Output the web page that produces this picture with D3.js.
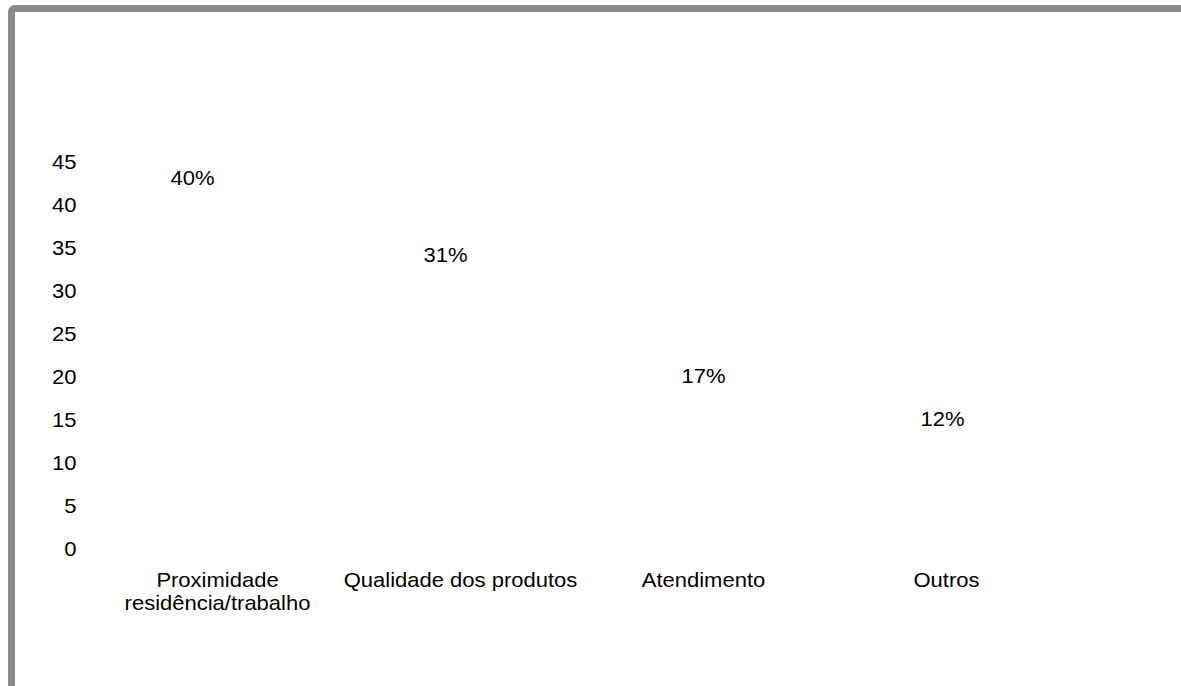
<!DOCTYPE html>
<html>
<head>
<meta charset="utf-8">
<script src="https://cdn.jsdelivr.net/npm/d3@7"></script>
<style>
  html, body { margin: 0; padding: 0; background: #ffffff; }
  svg { display: block; }
  text { font-family: "Liberation Sans", Arial, sans-serif; fill: #000000; }
</style>
</head>
<body>
<svg id="chart" width="1181" height="686"></svg>
<script>
// Motivos de escolha da loja (percentual de respostas)
const categories = [["Proximidade", "residência/trabalho"], ["Qualidade dos produtos"], ["Atendimento"], ["Outros"]];
const values = [40, 31, 17, 12];
const valueLabels = ["40%", "31%", "17%", "12%"];
const yTicks = [0, 5, 10, 15, 20, 25, 30, 35, 40, 45];

const W = 1181, H = 686;
const FONT = 20, STRETCH = 1.1;
// horizontal nudges applied to the data labels (manually placed labels)
const labelNudge = [-25, -15, 0, -4];

const svg = d3.select("#chart");

// outer frame
svg.append("rect")
  .attr("x", 11.5).attr("y", 8.5)
  .attr("width", W + 40).attr("height", H + 40)
  .attr("rx", 3)
  .attr("fill", "#ffffff")
  .attr("stroke", "#8a8a8a")
  .attr("stroke-width", 7);

const keys = categories.map(c => c.join(" "));
const x = d3.scaleBand().domain(keys).range([96, 1068]).paddingInner(0.4).paddingOuter(0.2);
const y = d3.scaleLinear().domain([0, 45]).range([548, 161]);

// bars (white fill)
svg.append("g").selectAll("rect")
  .data(values)
  .join("rect")
  .attr("x", (d, i) => x(keys[i]))
  .attr("y", d => y(d))
  .attr("width", x.bandwidth())
  .attr("height", d => y(0) - y(d))
  .attr("fill", "#ffffff");

// y axis labels
const yAxis = svg.append("g")
  .attr("transform", "translate(76.5,0)")
  .call(d3.axisLeft(y).tickValues(yTicks).tickSize(0).tickPadding(0).tickFormat(d3.format("d")));
yAxis.select(".domain").remove();
yAxis.selectAll("text")
  .attr("x", 0).attr("dy", "0.35em")
  .attr("transform", `scale(${STRETCH},1)`)
  .style("font-size", FONT + "px")
  .style("font-family", "'Liberation Sans', Arial, sans-serif")
  .attr("fill", "#000");

// category labels
const catG = svg.append("g").selectAll("text")
  .data(categories)
  .join("text")
  .attr("text-anchor", "middle")
  .style("font-size", FONT + "px")
  .attr("transform", (d, i) => `translate(${x(keys[i]) + x.bandwidth() / 2},587) scale(${STRETCH},1)`);
catG.selectAll("tspan")
  .data(d => d)
  .join("tspan")
  .attr("x", 0)
  .attr("dy", (d, j) => j === 0 ? 0 : 23)
  .text(d => d);

// data labels
svg.append("g").selectAll("text")
  .data(values)
  .join("text")
  .attr("text-anchor", "middle")
  .attr("dy", "0.35em")
  .style("font-size", FONT + "px")
  .attr("transform", (d, i) => `translate(${x(keys[i]) + x.bandwidth() / 2 + labelNudge[i]},${y(d) - 26}) scale(${STRETCH},1)`)
  .text((d, i) => valueLabels[i]);
</script>
</body>
</html>
